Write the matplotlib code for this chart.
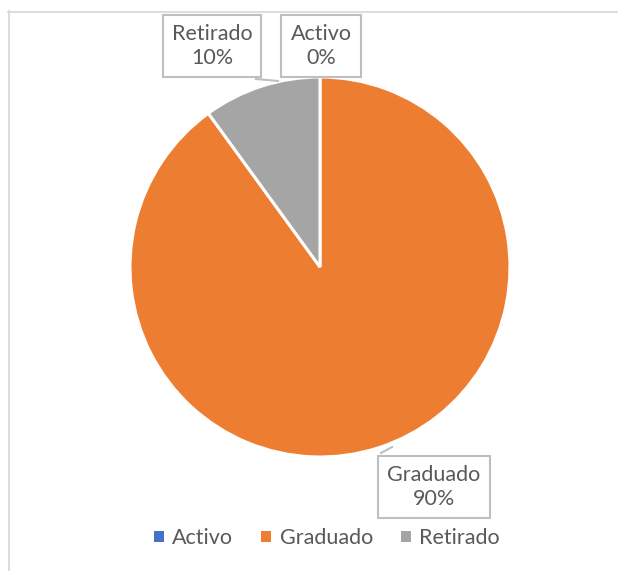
import matplotlib
matplotlib.use("Agg")
import matplotlib.pyplot as plt
from matplotlib.patches import Patch
from matplotlib.lines import Line2D

categories = ["Activo", "Graduado", "Retirado"]
values = [0, 90, 10]
pct_labels = ["0%", "90%", "10%"]
colors = ["#4472C4", "#ED7D31", "#A5A5A5"]

W, H = 618, 571
cx, cy, R = 320, 267, 190

plt.rcParams['font.family'] = ['Lato', 'DejaVu Sans']
fig = plt.figure(figsize=(W / 100, H / 100), dpi=100)
ax = fig.add_axes([0, 0, 1, 1])

def d(px, py):
    return ((px - cx) / R, (cy - py) / R)

ax.pie(values, colors=colors, startangle=90, counterclock=False, radius=1,
       wedgeprops=dict(edgecolor="white", linewidth=2.2))
ax.set_xlim(-cx / R, (W - cx) / R)
ax.set_ylim(-(H - cy) / R, cy / R)
ax.set_aspect("equal")
ax.axis("off")

txt_color = "#595959"
box = dict(boxstyle="square,pad=0.42", fc="white", ec="#BFBFBF", lw=1.5)
label_pos = {"Activo": (321, 46), "Graduado": (434, 487), "Retirado": (212, 46)}
for cat, p in zip(categories, pct_labels):
    x, y = d(*label_pos[cat])
    ax.text(x, y, f"{cat}\n{p}", ha="center", va="center", fontsize=15.5,
            color=txt_color, bbox=box, linespacing=1.25, zorder=5)

# leader lines
for (x0, y0), (x1, y1) in [((256, 79), (278, 81)), ((381, 453), (392, 447))]:
    a, b = d(x0, y0)
    c, e = d(x1, y1)
    ax.add_line(Line2D([a, c], [b, e], color="#BFBFBF", lw=1.5, zorder=4))

# chart border (top and left visible)
fig.add_artist(Line2D([8 / W, 1], [1 - 11.5 / H, 1 - 11.5 / H], transform=fig.transFigure,
                      color="#D9D9D9", lw=1.3))
fig.add_artist(Line2D([8.5 / W, 8.5 / W], [0, 1 - 11 / H], transform=fig.transFigure,
                      color="#D9D9D9", lw=1.3))

handles = [Patch(facecolor=c, edgecolor="none") for c in colors]
leg = fig.legend(handles, categories, loc="center", bbox_to_anchor=(327 / W, 1 - 538 / H),
                 ncol=3, frameon=False, fontsize=15.5, handlelength=0.45, handleheight=0.45,
                 handletextpad=0.4, columnspacing=1.3)
for t in leg.get_texts():
    t.set_color(txt_color)

fig.savefig("out.png", dpi=100)
